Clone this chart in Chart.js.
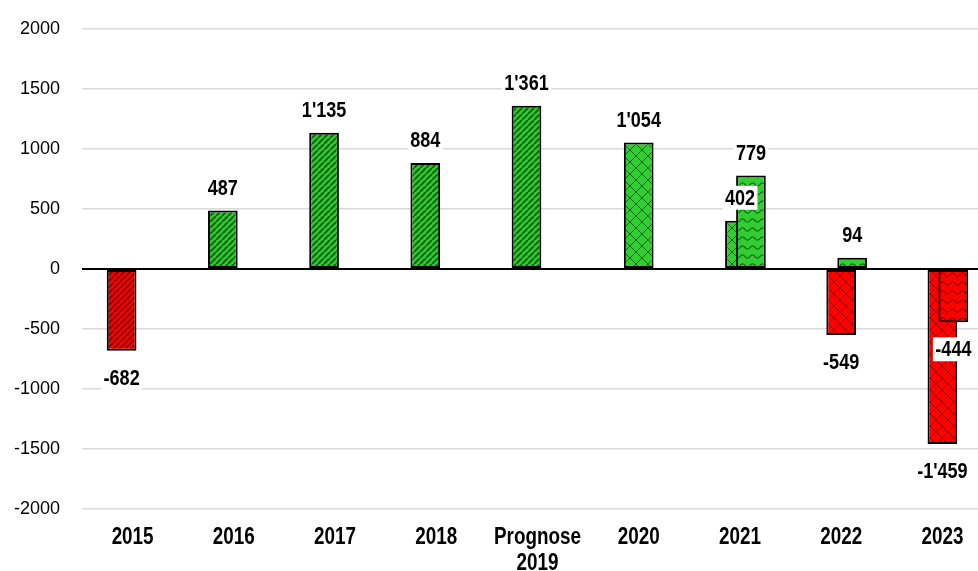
<!DOCTYPE html>
<html>
<head>
<meta charset="utf-8">
<script src="https://cdn.jsdelivr.net/npm/chart.js@4.4.1/dist/chart.umd.min.js"></script>
<style>
  html, body { margin: 0; padding: 0; background: #fff; overflow: hidden; }
  #wrap { position: absolute; left: 0; top: 0; width: 1000px; height: 571px; }
</style>
</head>
<body>
<div id="wrap"><canvas id="barChart"></canvas></div>
<script>
const categories = ["2015", "2016", "2017", "2018", ["Prognose", "2019"], "2020", "2021", "2022", "2023"];
const historic   = [-682, 487, 1135, 884, 1361, null, null, null, null];
const scenarioA  = [null, null, null, null, null, 1054, 402, -549, -1459];
const scenarioB  = [null, null, null, null, null, null, 779, 94, -444];
const yTicks = [-2000, -1500, -1000, -500, 0, 500, 1000, 1500, 2000];

const GREEN = "#33cc33", GREEN_DARK = "#0f6e0f";
const RED = "#ff0000", RED_DARK = "#9a0000";
const BOLD = "'Liberation Sans', Arial, sans-serif";
const SQUEEZE = 0.82; // no narrow font installed, so squeeze bold Arial-like text

function makePattern(bg, fg, kind) {
    const c = document.createElement("canvas");
    const g = c.getContext("2d");
    let w, h;
    if (kind === "diag") { w = 6; h = 6; }
    else if (kind === "brick") { w = 12; h = 12; }
    else { w = 10; h = 9; }
    c.width = w; c.height = h;
    g.fillStyle = bg;
    g.fillRect(0, 0, w, h);
    g.strokeStyle = fg;
    g.beginPath();
    if (kind === "diag") {
        g.lineWidth = 2.2;
        for (let k = -w; k <= w; k += w) {
            g.moveTo(k, h);
            g.lineTo(k + w, 0);
        }
    } else if (kind === "brick") {
        g.lineWidth = 1;
        g.moveTo(0, 0); g.lineTo(w, h);
        g.moveTo(0, h); g.lineTo(w, 0);
    } else {
        g.lineWidth = 1.2;
        for (let x = 0; x <= w; x += 0.5) {
            const y = h / 2 - 1.6 * Math.sin((x / w) * Math.PI * 2);
            if (x === 0) g.moveTo(x, y); else g.lineTo(x, y);
        }
    }
    g.stroke();
    return g.createPattern(c, "repeat");
}

const pat = {
    diag:  { pos: makePattern(GREEN, GREEN_DARK, "diag"),  neg: makePattern(RED, RED_DARK, "diag") },
    brick: { pos: makePattern(GREEN, GREEN_DARK, "brick"), neg: makePattern(RED, RED_DARK, "brick") },
    wave:  { pos: makePattern(GREEN, GREEN_DARK, "wave"),  neg: makePattern(RED, RED_DARK, "wave") }
};

function fillFor(kind) {
    return (c) => (c.raw !== null && c.raw < 0 ? pat[kind].neg : pat[kind].pos);
}

function fmt(v) {
    const s = String(Math.abs(v)).replace(/\B(?=(\d{3})+(?!\d))/g, "'");
    return (v < 0 ? "-" : "") + s;
}

function narrowText(c, txt, x, y, box) {
    c.save();
    c.translate(x, y);
    c.scale(SQUEEZE, 1);
    if (box) {
        const tw = c.measureText(txt).width;
        c.fillStyle = "#fff";
        c.fillRect(-tw / 2 - 3, -12, tw + 6, 24);
    }
    c.fillStyle = "#000";
    c.fillText(txt, 0, 1);
    c.restore();
}

// draw first dataset first, so the right-hand bar of a group sits on top
const drawOrder = {
    id: "drawOrder",
    beforeDatasetsDraw(chart) {
        chart.getSortedVisibleDatasetMetas().forEach(m => chart._drawDataset(m));
        return false;
    }
};

const textLayer = {
    id: "textLayer",
    afterDraw(chart) {
        const c = chart.ctx;
        c.save();
        c.textAlign = "center";
        c.textBaseline = "middle";
        c.font = "bold 22px " + BOLD;
        chart.data.datasets.forEach((ds, i) => {
            const meta = chart.getDatasetMeta(i);
            meta.data.forEach((bar, j) => {
                const v = ds.data[j];
                if (v === null) return;
                const y = v < 0 ? bar.y + 27 : bar.y - 23;
                narrowText(c, fmt(v), bar.x, y, true);
            });
        });
        // category labels
        const xs = chart.scales.x;
        c.font = "bold 23px " + BOLD;
        categories.forEach((lab, i) => {
            const x = xs.getPixelForValue(i);
            const lines = Array.isArray(lab) ? lab : [lab];
            lines.forEach((t, k) => narrowText(c, t, x, 537 + k * 26, false));
        });
        c.restore();
    }
};

const ctx = document.getElementById("barChart").getContext("2d");

new Chart(ctx, {
    type: "bar",
    data: {
        labels: categories,
        datasets: [
            { label: "Ist", data: historic, backgroundColor: fillFor("diag") },
            { label: "Szenario 1", data: scenarioA, backgroundColor: fillFor("brick") },
            { label: "Szenario 2", data: scenarioB, backgroundColor: fillFor("wave") }
        ]
    },
    options: {
        responsive: true,
        maintainAspectRatio: false,
        animation: false,
        categoryPercentage: 0.326,
        barPercentage: 2.7,
        datasets: {
            bar: { borderColor: "#000", borderWidth: 2, borderSkipped: false }
        },
        layout: { padding: { top: 29, right: 7, left: 0, bottom: 0 } },
        plugins: {
            legend: { display: false },
            tooltip: { enabled: false }
        },
        scales: {
            x: {
                grid: { display: false, drawTicks: false },
                border: { display: false },
                ticks: { display: false },
                afterFit: (s) => { s.height = 62; }
            },
            y: {
                min: yTicks[0],
                max: yTicks[yTicks.length - 1],
                afterBuildTicks: (s) => { s.ticks = yTicks.map(v => ({ value: v })); },
                grid: {
                    drawTicks: false,
                    color: (c) => (c.tick && c.tick.value === 0 ? "#000" : "#d9d9d9"),
                    lineWidth: (c) => (c.tick && c.tick.value === 0 ? 2 : 1.5)
                },
                border: { display: false },
                ticks: {
                    color: "#000",
                    padding: 22,
                    font: { family: BOLD, size: 18 },
                    callback: (v) => String(v)
                },
                afterFit: (s) => { s.width = 82; s.paddingTop = 0; s.paddingBottom = 0; }
            }
        }
    },
    plugins: [drawOrder, textLayer]
});
</script>
</body>
</html>
